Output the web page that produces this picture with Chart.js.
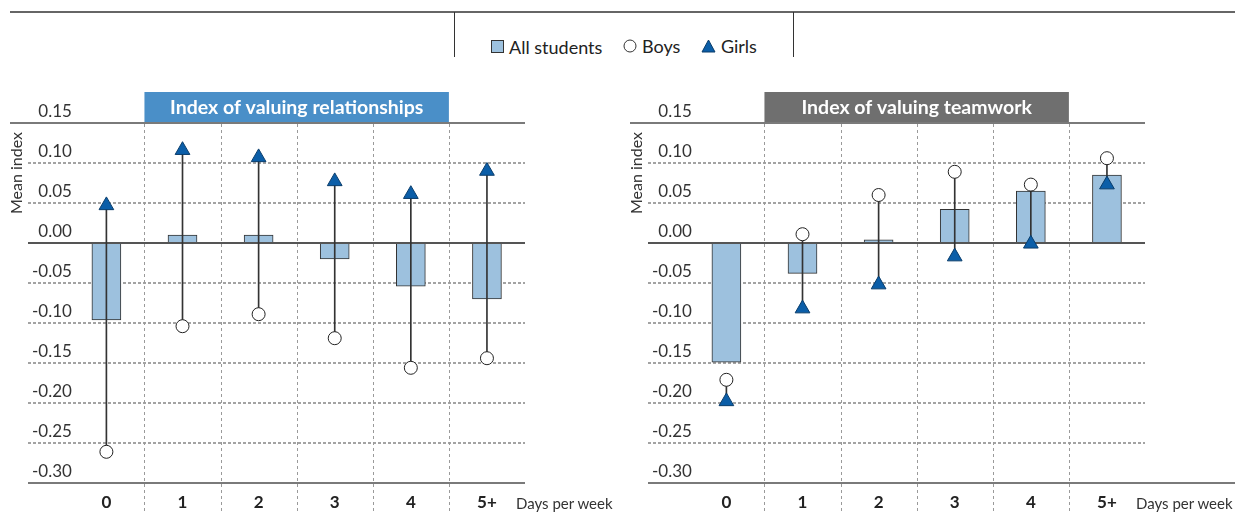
<!DOCTYPE html>
<html>
<head>
<meta charset="utf-8">
<script src="https://cdn.jsdelivr.net/npm/chart.js@4.4.1/dist/chart.umd.min.js"></script>
<style>
  html, body { margin: 0; padding: 0; background: #fff; }
  body { width: 1245px; height: 512px; position: relative; overflow: hidden; font-family: Lato, "Open Sans", sans-serif; color: #222; }
  canvas { position: absolute; top: 0; }
  #topline { position: absolute; left: 10px; top: 11px; width: 1225px; height: 2px; background: #666; }
  .vline { position: absolute; top: 12px; width: 1px; height: 45px; background: #333; }
  #legend { position: absolute; left: 454px; width: 340px; top: 35px; text-align: center; font-size: 18px; line-height: 22px; white-space: nowrap; }
  #legend span.item { display: inline-flex; align-items: center; margin: 0 8px; }
  #legend svg { margin-right: 5px; }
  .ytitle { position: absolute; font-size: 16px; color: #333; transform: rotate(-90deg); transform-origin: center center; width: 100px; text-align: center; line-height: 18px; }
  .xtitle { position: absolute; font-size: 15px; color: #333; white-space: nowrap; line-height: 18px; }
</style>
</head>
<body>
<div id="topline"></div>
<div class="vline" style="left:454px"></div>
<div class="vline" style="left:793px"></div>
<div id="legend">
  <span class="item"><svg width="13" height="13"><rect x="0.5" y="0.5" width="12" height="12" fill="#9dc1de" stroke="#333" stroke-width="1"/></svg>All students</span>
  <span class="item"><svg width="14" height="14"><circle cx="7" cy="7" r="6" fill="#fff" stroke="#333" stroke-width="1"/></svg>Boys</span>
  <span class="item"><svg width="15" height="14"><polygon points="7.5,1 14,13 1,13" fill="#0b5ea8" stroke="#0a3d6b" stroke-width="1"/></svg>Girls</span>
</div>

<canvas id="c1" width="620" height="512" style="left:0px"></canvas>
<canvas id="c2" width="620" height="512" style="left:620px"></canvas>

<div class="ytitle" style="left:-34px; top:164px;">Mean index</div>
<div class="ytitle" style="left:586px; top:164px;">Mean index</div>
<div class="xtitle" style="left:516px; top:494px;">Days per week</div>
<div class="xtitle" style="left:1136px; top:494px;">Days per week</div>

<script>
// ---------- data ----------
const categories = ['0', '1', '2', '3', '4', '5+'];
const yTickValues = [-0.30, -0.25, -0.20, -0.15, -0.10, -0.05, 0.00, 0.05, 0.10, 0.15];

const relTitle = 'Index of valuing relationships';
const relAll   = [-0.096, 0.010, 0.010, -0.020, -0.054, -0.070];
const relBoys  = [-0.261, -0.104, -0.089, -0.119, -0.156, -0.144];
const relGirls = [0.047, 0.116, 0.107, 0.077, 0.061, 0.090];

const teamTitle = 'Index of valuing teamwork';
const teamAll   = [-0.149, -0.038, 0.004, 0.042, 0.065, 0.085];
const teamBoys  = [-0.171, 0.011, 0.060, 0.089, 0.073, 0.106];
const teamGirls = [-0.198, -0.082, -0.052, -0.017, -0.001, 0.073];

// ---------- drawing helpers ----------
const decoPlugin = {
  id: 'deco',
  beforeDatasetsDraw(chart, args, opts) {
    const ctx = chart.ctx, x = chart.scales.x, y = chart.scales.y, ca = chart.chartArea;
    const yMax = yTickValues[yTickValues.length - 1], yMin = yTickValues[0];
    ctx.save();
    yTickValues.forEach(v => {
      const py = Math.round(y.getPixelForValue(v));
      ctx.beginPath();
      if (v === yMax) {
        ctx.setLineDash([]); ctx.strokeStyle = '#7a7a7a'; ctx.lineWidth = 2;
        ctx.moveTo(opts.topLeft, py); ctx.lineTo(ca.right, py);
      } else if (v === yMin) {
        ctx.setLineDash([]); ctx.strokeStyle = '#7a7a7a'; ctx.lineWidth = 2;
        ctx.moveTo(ca.left, py); ctx.lineTo(opts.bottomRight, py);
      } else if (v === 0) {
        return;
      } else {
        ctx.setLineDash([3, 2]); ctx.strokeStyle = '#858585'; ctx.lineWidth = 1.4;
        ctx.moveTo(ca.left, py); ctx.lineTo(ca.right, py);
      }
      ctx.stroke();
    });
    ctx.setLineDash([3, 3]); ctx.strokeStyle = '#9a9a9a'; ctx.lineWidth = 1;
    for (let i = 0; i < categories.length - 1; i++) {
      const px = Math.round(x.getPixelForValue(i + 0.5)) + 0.5;
      ctx.beginPath();
      ctx.moveTo(px, ca.top + 1); ctx.lineTo(px, chart.height);
      ctx.stroke();
    }
    const bx0 = x.getPixelForValue(0.5), bx1 = x.getPixelForValue(categories.length - 1.5);
    const top = y.getPixelForValue(yMax);
    ctx.setLineDash([]);
    ctx.fillStyle = opts.boxColor;
    ctx.fillRect(bx0, top - 31, bx1 - bx0, 30);
    ctx.fillStyle = '#fff';
    ctx.font = 'bold 19.5px Lato';
    ctx.textAlign = 'center'; ctx.textBaseline = 'middle';
    ctx.fillText(opts.title, (bx0 + bx1) / 2, top - 15.5);
    ctx.restore();
  },
  afterDatasetDraw(chart, args) {
    if (args.meta.type !== 'bar' || args.meta._dataset.label !== 'All students') return;
    const ctx = chart.ctx, y = chart.scales.y, ca = chart.chartArea;
    const py = Math.round(y.getPixelForValue(0));
    ctx.save();
    ctx.strokeStyle = '#555'; ctx.lineWidth = 2;
    ctx.beginPath(); ctx.moveTo(ca.left, py); ctx.lineTo(ca.right, py); ctx.stroke();
    ctx.restore();
  }
};

function makeChart(id, title, boxColor, all, boys, girls, bottomRight) {
  const pts = arr => arr.map((v, i) => ({ x: i, y: v }));
  return new Chart(document.getElementById(id), {
    type: 'bar',
    data: {
      datasets: [
        {
          type: 'scatter', label: 'Girls', data: pts(girls), order: 0,
          pointStyle: 'triangle', pointRadius: 8.5, pointBackgroundColor: '#0b5ea8',
          pointBorderColor: '#0a3d6b', pointBorderWidth: 1
        },
        {
          type: 'scatter', label: 'Boys', data: pts(boys), order: 1,
          pointStyle: 'circle', pointRadius: 6.5, pointBackgroundColor: '#fff',
          pointBorderColor: '#222', pointBorderWidth: 1
        },
        {
          type: 'bar', label: 'range', order: 2, grouped: false,
          data: boys.map((b, i) => ({ x: i, y: [b, girls[i]] })),
          barThickness: 1, backgroundColor: '#333', borderWidth: 0
        },
        {
          type: 'bar', label: 'All students', order: 3, grouped: false,
          data: pts(all), barThickness: 29,
          backgroundColor: '#9dc1de', borderColor: '#333', borderWidth: 1, borderSkipped: false
        }
      ]
    },
    options: {
      responsive: false, animation: false, events: [],
      layout: { padding: { left: 28, right: 95, top: 123, bottom: 0 } },
      plugins: {
        legend: { display: false }, tooltip: { enabled: false },
        deco: { title: title, boxColor: boxColor, topLeft: 10, bottomRight: bottomRight }
      },
      scales: {
        x: {
          type: 'linear', min: -1.03, max: categories.length - 0.5, offset: false,
          grid: { display: false, drawTicks: false }, border: { display: false },
          afterBuildTicks: s => { s.ticks = categories.map((c, i) => ({ value: i })); },
          afterFit: s => { s.height = 29; },
          ticks: {
            autoSkip: false, maxRotation: 0, padding: 9, color: '#222',
            font: { family: 'Lato', weight: 'bold', size: 17 },
            callback: v => categories[v]
          }
        },
        y: {
          type: 'linear', min: yTickValues[0], max: yTickValues[yTickValues.length - 1],
          grid: { display: false, drawTicks: false }, border: { display: false },
          afterBuildTicks: s => { s.ticks = yTickValues.map(v => ({ value: v })); },
          afterFit: s => { s.width = 0; },
          ticks: {
            mirror: true, crossAlign: 'far', padding: 4, labelOffset: -11, color: '#333',
            font: { family: 'Lato', size: 17 },
            callback: v => (Math.abs(v) < 1e-9 ? '0.00' : v.toFixed(2))
          }
        }
      }
    },
    plugins: [decoPlugin]
  });
}

makeChart('c1', relTitle, '#4a8fc8', relAll, relBoys, relGirls, 525);
makeChart('c2', teamTitle, '#6f6f6f', teamAll, teamBoys, teamGirls, 615);
</script>
</body>
</html>
